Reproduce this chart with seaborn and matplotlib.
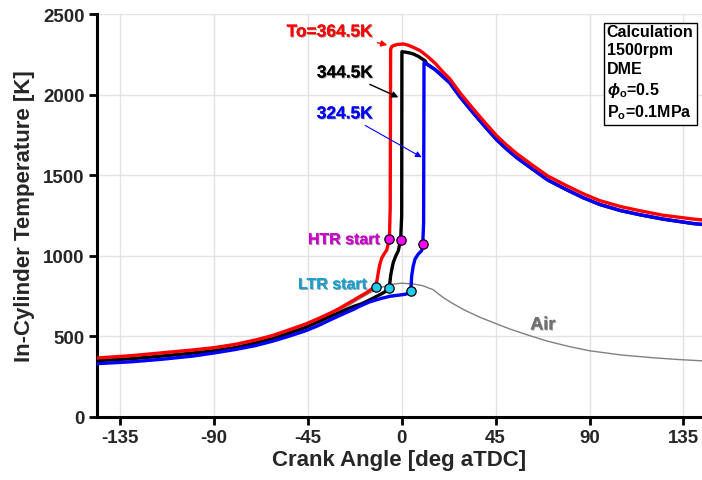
import numpy as np
import pandas as pd
import matplotlib
matplotlib.use("Agg")
import matplotlib.pyplot as plt
import matplotlib.patheffects as pe
import seaborn as sns

# ---------------- data ----------------
ca_red = [-146, -130, -115, -100, -90, -80, -70, -62, -55, -46, -40, -35, -30, -27, -23, -20, -17,
          -15, -12.5, -11.8, -11.2, -10.5, -9.6, -8.4, -7.2, -5.9,
          -5.5, -5.3, -4.8, -3.5, -2, 0.8, 3, 5.6, 8.8, 12, 16, 19.9, 23.1, 28, 34.3, 40, 45.5, 50,
          55, 63, 70, 79, 87, 95, 105, 114, 125, 139.7, 146]
T_red = [366, 380, 398, 416, 430, 450, 478, 505, 536, 577, 610, 640, 672, 695, 725, 748, 770,
         788, 808, 850, 898, 945, 985, 1012, 1035, 1102,
         1300, 2280, 2298, 2306, 2311, 2314, 2307, 2293, 2273, 2241, 2195, 2138, 2097, 2010, 1911,
         1825, 1745, 1690, 1635, 1559, 1495, 1435, 1385, 1342, 1305, 1280, 1252, 1228, 1220]

ca_black = [-146, -130, -115, -100, -90, -80, -70, -62, -55, -46, -40, -35, -30, -27, -23,
            -19.5, -16, -12.8, -10, -8, -6.1, -5.6, -5.3, -4.6, -4, -2.8, -1.6,
            -0.5, 0, 0.1, 2, 4, 5.6, 8, 11.2, 12, 16, 19.9, 23.1, 28, 34.3, 40, 45.5, 50, 55, 63,
            70, 79, 87, 95, 105, 114, 125, 139.7, 146]
T_black = [349, 361, 378, 397, 411, 430, 458, 485, 515, 556, 590, 620, 647, 665, 686,
           701, 722, 743, 762, 777, 800, 840, 877, 925, 960, 1000, 1032,
           1102, 1250, 2266, 2263, 2258, 2252, 2237, 2210, 2190, 2155, 2110, 2072, 1985, 1886,
           1800, 1720, 1665, 1610, 1535, 1470, 1410, 1360, 1318, 1280, 1255, 1228, 1200, 1192]

ca_blue = [-146, -130, -115, -100, -90, -80, -70, -62, -55, -46, -40, -35, -30, -27, -23, -20,
           -15.2, -10, -5.6, -2, 1.6, 3.2, 4.3, 4.6, 4.8, 5.5, 6.4, 8, 9.6, 10.1, 10.5, 10.7, 12,
           16, 19.9, 23.1, 28, 34.3, 40, 45.5, 50, 55, 63, 70, 79, 87, 95, 105, 114, 125, 139.7, 146]
T_blue = [331, 342, 358, 378, 397, 418, 443, 470, 497, 535, 567, 598, 628, 645, 668, 688,
          715, 735, 749, 755, 761, 768, 780, 830, 877, 935, 980, 1012, 1032, 1077, 1200, 2200,
          2190, 2155, 2110, 2072, 1985, 1886, 1800, 1720, 1665, 1610, 1535, 1470, 1410, 1360,
          1318, 1280, 1255, 1228, 1200, 1192]

ca_air = [-146, -130, -120, -105, -90, -80, -70, -60, -50, -40, -30, -25, -20, -15, -10, -5, 0,
          5, 10, 15, 20, 25, 30, 37.6, 45, 52, 61.5, 70, 80, 90, 105, 120, 132, 146]
T_air = [349, 360, 368, 387, 411, 432, 465, 508, 555, 605, 664, 695, 735, 772, 803, 823, 830,
         826, 815, 790, 740, 700, 664, 618, 580, 545, 504, 470, 438, 411, 385, 368, 357, 347]

ltr_ca = [-12.5, -6.1, 4.3]
ltr_T = [808, 800, 780]
htr_ca = [-5.9, -0.5, 10.1]
htr_T = [1105, 1100, 1075]

x_ticks = [-135, -90, -45, 0, 45, 90, 135]
y_ticks = [0, 500, 1000, 1500, 2000, 2500]

# ---------------- style ----------------
sns.set_theme(style="white")
plt.rcParams['font.family'] = ['Liberation Sans', 'DejaVu Sans']
plt.rcParams['font.weight'] = 'bold'
plt.rcParams['axes.unicode_minus'] = False
plt.rcParams['mathtext.fontset'] = 'custom'
plt.rcParams['mathtext.rm'] = 'Liberation Sans:bold'
plt.rcParams['mathtext.it'] = 'Liberation Sans:bold:italic'
plt.rcParams['mathtext.bf'] = 'Liberation Sans:bold'

fig = plt.figure(figsize=(7.02, 4.81), dpi=100)
ax = fig.add_axes([97 / 702, 63 / 481, 605 / 702, 403 / 481])

def df(ca, T):
    return pd.DataFrame({"ca": ca, "T": T})

sns.lineplot(data=df(ca_air, T_air), x="ca", y="T", sort=False, estimator=None,
             color="#808080", lw=1.0, ax=ax, zorder=2)
sns.lineplot(data=df(ca_black, T_black), x="ca", y="T", sort=False, estimator=None,
             color="black", lw=2.4, ax=ax, zorder=3)
sns.lineplot(data=df(ca_blue, T_blue), x="ca", y="T", sort=False, estimator=None,
             color="#0000ff", lw=2.4, ax=ax, zorder=4)
sns.lineplot(data=df(ca_red, T_red), x="ca", y="T", sort=False, estimator=None,
             color="#ff0000", lw=2.4, ax=ax, zorder=5)
for line in ax.lines:
    line.set_solid_joinstyle('round')
    line.set_solid_capstyle('round')

sns.scatterplot(x=ltr_ca, y=ltr_T, color="#22ccee", edgecolor="black", s=45,
                linewidth=0.9, ax=ax, zorder=6)
sns.scatterplot(x=htr_ca, y=htr_T, color="#ff00ff", edgecolor="black", s=45,
                linewidth=0.9, ax=ax, zorder=6)

ax.set_xlim(-146, 143.9)
ax.set_ylim(0, 2500)
ax.set_xticks(x_ticks)
ax.set_yticks(y_ticks)
ax.grid(True, color="#e3e3e3", lw=1.0)
ax.set_axisbelow(True)
for s in ["top", "right"]:
    ax.spines[s].set_visible(False)
for s in ["left", "bottom"]:
    ax.spines[s].set_color("black")
    ax.spines[s].set_linewidth(2.2)
ax.tick_params(axis="both", which="major", direction="out", length=6, width=2,
               color="black", labelsize=13.5, pad=3, bottom=True, left=True)
for lab in ax.get_xticklabels() + ax.get_yticklabels():
    lab.set_fontweight("bold")

ax.set_xlabel("Crank Angle [deg aTDC]", fontsize=16, fontweight="bold", labelpad=2)
ax.set_ylabel("In-Cylinder Temperature [K]", fontsize=16, fontweight="bold", labelpad=6)

shadow = [pe.withSimplePatchShadow(offset=(0.7, -0.7), shadow_rgbFace="#444444", alpha=0.5), pe.Normal()]

# annotations for initial temperatures
ax.annotate("To=364.5K", xy=(-6.9, 2308), xytext=(-13.8, 2388), color="#ff0000",
            fontsize=12.5, fontweight="bold", ha="right", va="center",
            arrowprops=dict(arrowstyle="-|>", color="#ff0000", lw=1.0, mutation_scale=9,
                            shrinkA=1, shrinkB=0), path_effects=shadow, zorder=7)
ax.annotate("344.5K", xy=(-1.6, 1983), xytext=(-13.8, 2134), color="black",
            fontsize=12.5, fontweight="bold", ha="right", va="center",
            arrowprops=dict(arrowstyle="-|>", color="black", lw=1.0, mutation_scale=9,
                            shrinkA=1, shrinkB=0), path_effects=shadow, zorder=7)
ax.annotate("324.5K", xy=(9.6, 1611), xytext=(-13.8, 1880), color="#0000ff",
            fontsize=12.5, fontweight="bold", ha="right", va="center",
            arrowprops=dict(arrowstyle="-|>", color="#0000ff", lw=0.8, mutation_scale=9,
                            shrinkA=1, shrinkB=0), path_effects=shadow, zorder=7)

ax.text(-10.3, 1100, "HTR start", color="#cc00cc", fontsize=11.5, fontweight="bold",
        ha="right", va="center", path_effects=shadow, zorder=7)
ax.text(-16.5, 822, "LTR start", color="#1a9fcf", fontsize=11.5, fontweight="bold",
        ha="right", va="center", path_effects=shadow, zorder=7)
ax.text(67.6, 571, "Air", color="#707070", fontsize=13, fontweight="bold",
        ha="center", va="center", path_effects=shadow, zorder=7)

# info box
info = "Calculation\n1500rpm\nDME\n$\\phi_\\mathrm{o}$=0.5\nP$_\\mathrm{o}$=0.1MPa"
ax.text(0.8425, 0.975, info, transform=ax.transAxes, fontsize=11.5, fontweight="bold",
        ha="left", va="top", linespacing=1.28, color="black", zorder=8,
        bbox=dict(boxstyle="square,pad=0.2", fc="white", ec="black", lw=1.0))

fig.savefig("out.png", dpi=100)
